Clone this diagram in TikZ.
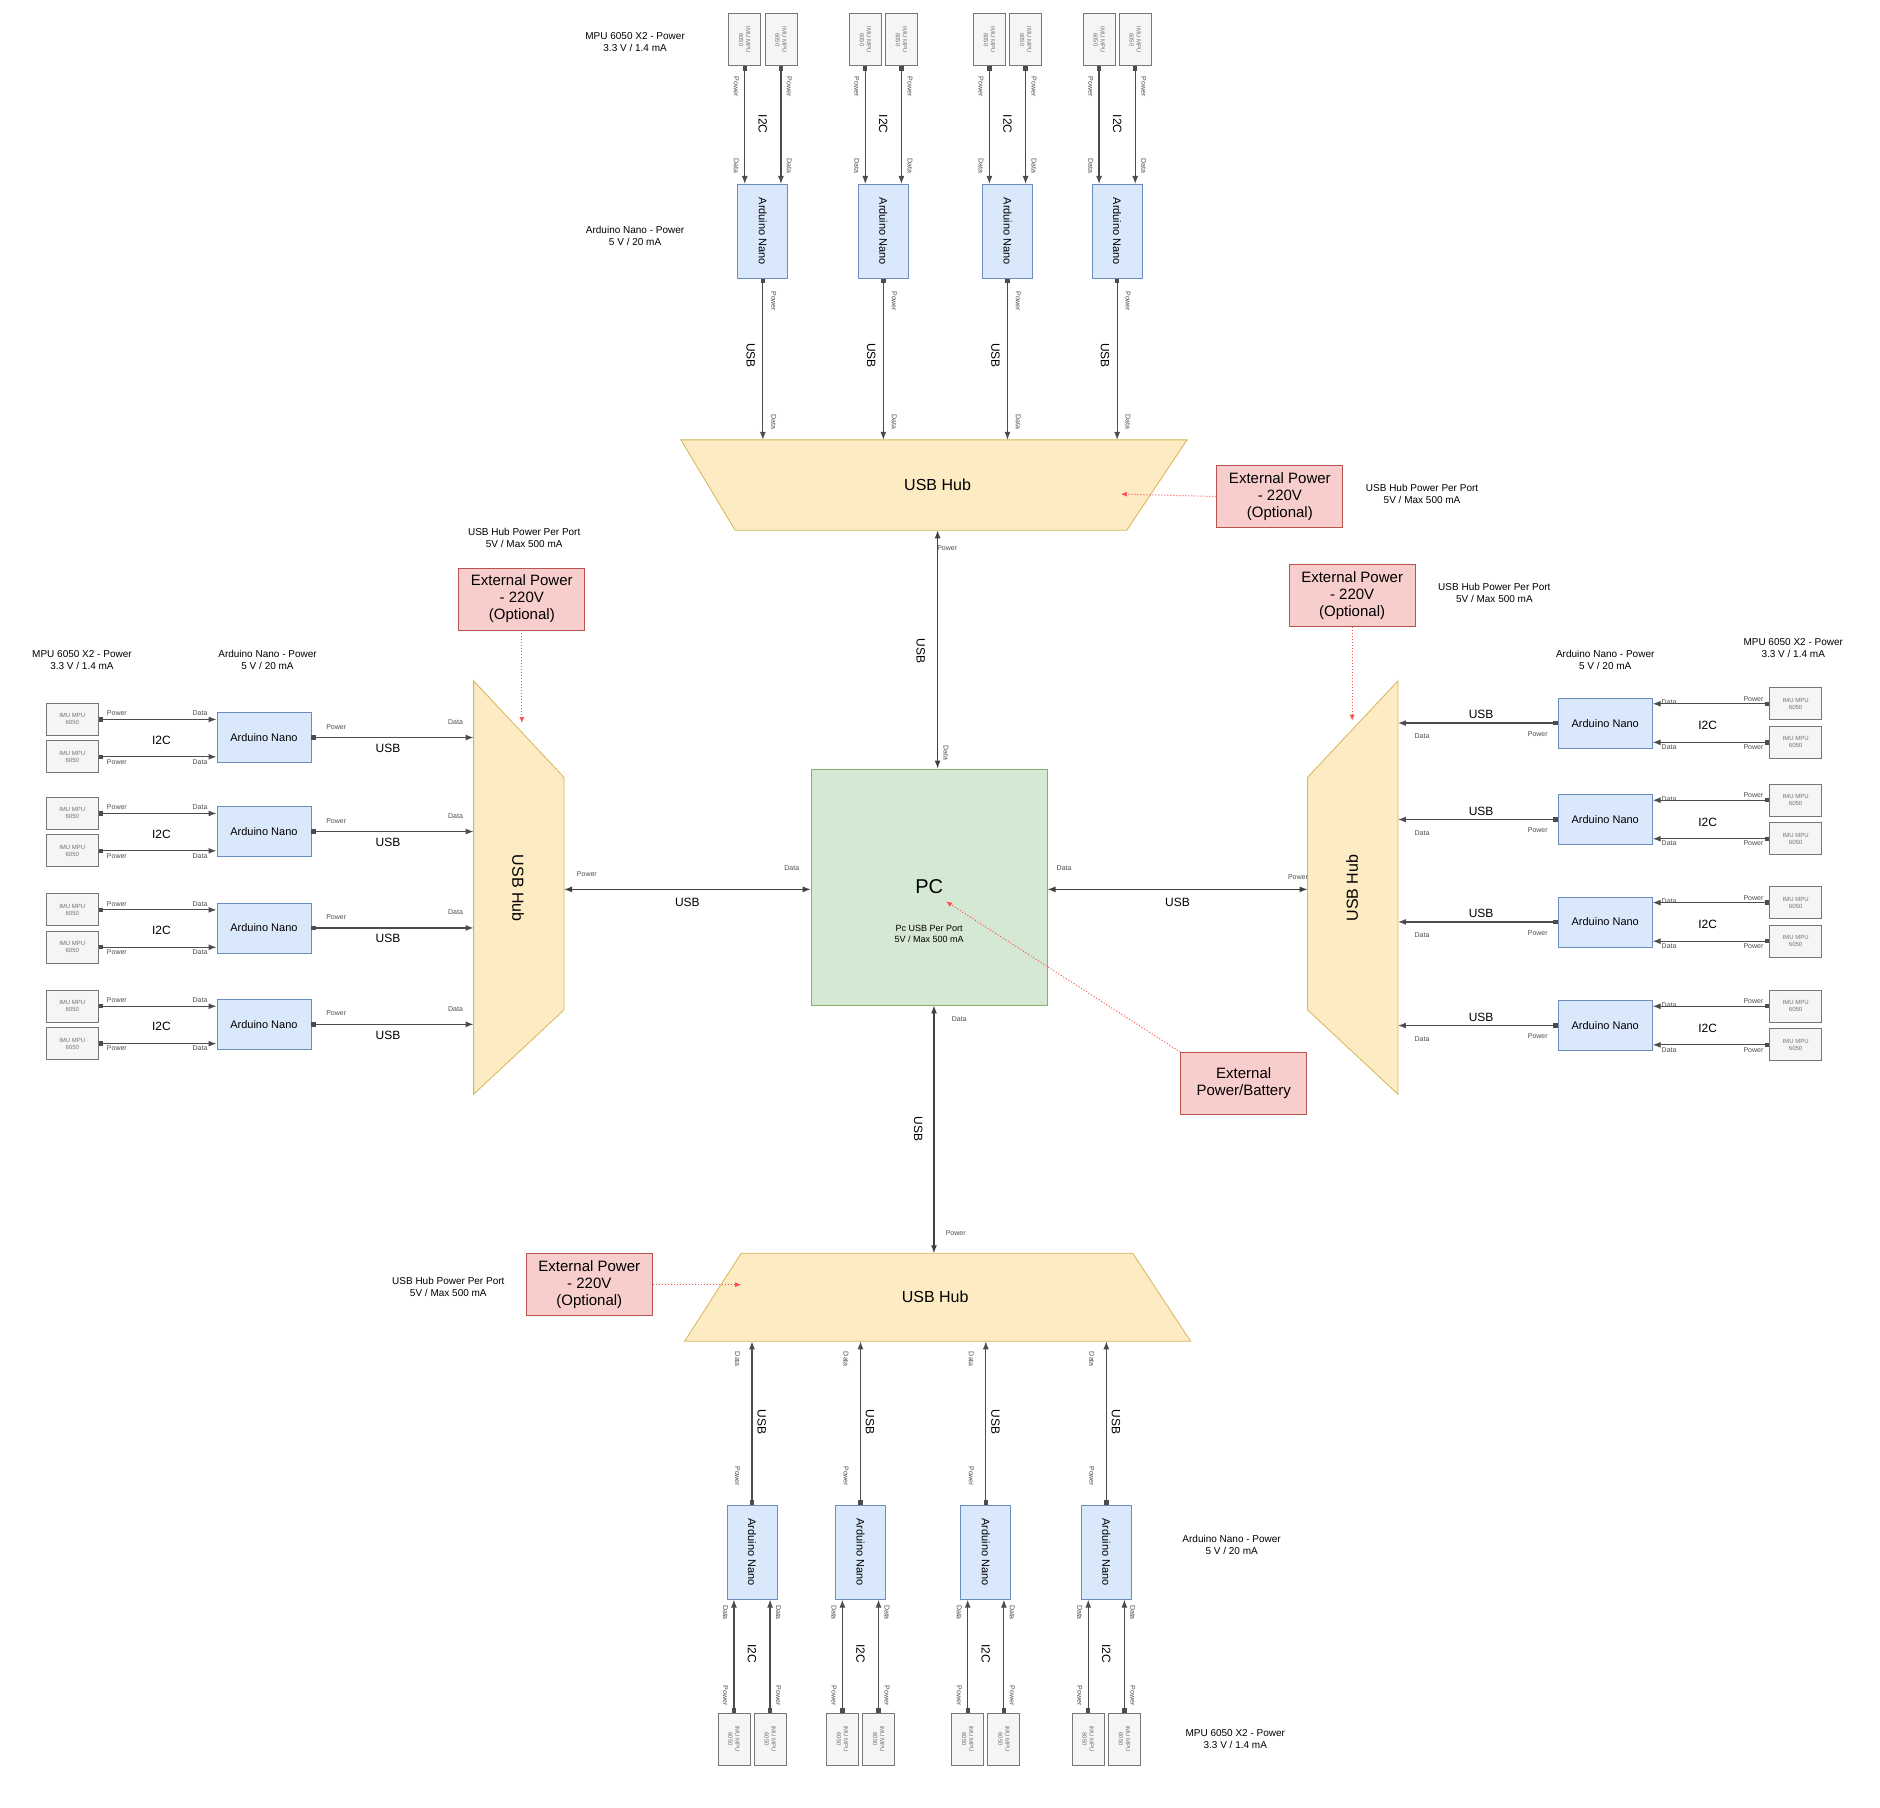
\documentclass[tikz,border=0pt]{standalone}
\usepackage{fontspec}
\setmainfont{Liberation Sans}
\usetikzlibrary{arrows.meta}
\definecolor{arf}{HTML}{DAE8FC}\definecolor{ard}{HTML}{6C8EBF}
\definecolor{hubf}{HTML}{FCEBC3}\definecolor{hubd}{HTML}{D6B656}
\definecolor{pcf}{HTML}{D5E8D4}\definecolor{pcd}{HTML}{82B366}
\definecolor{pkf}{HTML}{F8CECC}\definecolor{pkd}{HTML}{B85450}
\definecolor{mpf}{HTML}{F5F5F5}\definecolor{mpd}{HTML}{777777}
\begin{document}
\begin{tikzpicture}[x=0.6025pt,y=-0.6025pt,
 ardbox/.style={draw=ard,fill=arf,minimum width=47pt,minimum height=25pt,inner sep=0pt,font=\fontsize{5.5}{6}\selectfont},
 mpubox/.style={draw=mpd,fill=mpf,minimum width=26pt,minimum height=16pt,inner sep=0pt,align=center,text=black!55,font=\fontsize{3}{3.5}\selectfont},
 hub/.style={draw=hubd,fill=hubf,line width=0.4pt},
 pink/.style={draw=pkd,fill=pkf,minimum width=63pt,minimum height=31pt,align=center,inner sep=1pt,font=\fontsize{7.5}{8.5}\selectfont},
 con/.style={draw=black!70,line width=0.6pt,{Square[length=2.2pt,width=2.2pt]}-{Latex[length=4pt,width=3pt]}},
 dcon/.style={draw=black!75,line width=0.6pt,{Latex[length=4pt,width=3pt]}-{Latex[length=4pt,width=3pt]}},
 dot/.style={draw=red!70,densely dotted,line width=0.5pt,-{Latex[length=3pt,width=2.5pt]}},
 tl/.style={font=\fontsize{3.5}{4}\selectfont,text=black!70,inner sep=0pt},
 ml/.style={font=\fontsize{6}{7}\selectfont,inner sep=0pt},
 note/.style={font=\fontsize{5}{6}\selectfont,align=center,inner sep=0pt}]
\useasboundingbox (0,0) rectangle (1560,1500);
% hubs
\draw[hub] (565,365)--(985,365)--(935,440)--(610,440)--cycle;
\node[font=\fontsize{8}{9}\selectfont] (hTl) at (778,402) {USB Hub};
\draw[hub] (615,1040)--(940,1040)--(988,1113)--(568,1113)--cycle;
\node[font=\fontsize{8}{9}\selectfont] (hBl) at (776,1076) {USB Hub};
\draw[hub] (393,565)--(468,645)--(468,838)--(393,908)--cycle;
\node[font=\fontsize{8}{9}\selectfont,rotate=-90] (hLl) at (430,737) {USB Hub};
\draw[hub] (1160,565)--(1085,645)--(1085,838)--(1160,908)--cycle;
\node[font=\fontsize{8}{9}\selectfont,rotate=90] (hRl) at (1122,737) {USB Hub};
\coordinate (hTt) at (0,365); \coordinate (hTb) at (778,440);
\coordinate (hBb) at (0,1113); \coordinate (hBt) at (775,1040);
\coordinate (hLl2) at (393,0); \coordinate (hLr) at (468,738);
\coordinate (hRr) at (1160,0); \coordinate (hRl2) at (1085,738);
% PC
\node[draw=pcd,fill=pcf,minimum width=118pt,minimum height=118pt] (pc) at (771,736) {};
\node[font=\fontsize{10}{11}\selectfont] (pct) at (771,736) {PC};
\node[note,font=\fontsize{4.5}{5.5}\selectfont] (pcs) at (771,775) {Pc USB Per Port\\5V / Max 500 mA};
\draw[dcon] (hTb) -- (hTb |- pc.north);
\node[ml,rotate=-90] at (764,540) {USB};
\node[tl] at (786,455) {Power}; \node[tl,rotate=-90] at (785,625) {Data};
\draw[dcon] (hLr) -- (hLr -| pc.west) node[pos=0.5,ml,below=4pt] {USB};
\node[tl] at (487,725) {Power}; \node[tl] at (657,720) {Data};
\draw[dcon] (pc.east |- hRl2) -- (hRl2) node[pos=0.5,ml,below=4pt] {USB};
\node[tl] at (883,720) {Data}; \node[tl] at (1077,728) {Power};
\draw[dcon] (hBt |- pc.south) -- (hBt);
\node[ml,rotate=-90] at (762,937) {USB};
\node[tl] at (796,846) {Data}; \node[tl] at (793,1023) {Power};
% top group
\foreach \i/\a in {1/633,2/733,3/836,4/927}{
 \node[ardbox,rotate=-90] (ta\i) at (\a,192) {Arduino Nano};
 \node[mpubox,rotate=-90] (tm\i a) at (\a-15,33) {IMU MPU\\6050};
 \node[mpubox,rotate=-90] (tm\i b) at (\a+15,33) {IMU MPU\\6050};
 \draw[con] (tm\i a.east) -- (tm\i a.east |- ta\i.west);
 \draw[con] (tm\i b.east) -- (tm\i b.east |- ta\i.west);
 \draw[con] (ta\i.east) -- (ta\i.east |- hTt);
 \node[ml,rotate=-90] at (\a,103) {I2C};
 \node[tl,rotate=-90] at (\a-22,72) {Power}; \node[tl,rotate=-90] at (\a+22,72) {Power};
 \node[tl,rotate=-90] at (\a-22,138) {Data}; \node[tl,rotate=-90] at (\a+22,138) {Data};
 \node[tl,rotate=-90] at (\a+9,250) {Power}; \node[tl,rotate=-90] at (\a+9,350) {Data};
 \node[ml,rotate=-90] at (\a-10,295) {USB};
}
% bottom group
\foreach \i/\a in {1/624,2/714,3/818,4/918}{
 \node[ardbox,rotate=-90] (ba\i) at (\a,1288) {Arduino Nano};
 \node[mpubox,rotate=-90] (bm\i a) at (\a-15,1443) {IMU MPU\\6050};
 \node[mpubox,rotate=-90] (bm\i b) at (\a+15,1443) {IMU MPU\\6050};
 \draw[con] (bm\i a.west) -- (bm\i a.west |- ba\i.east);
 \draw[con] (bm\i b.west) -- (bm\i b.west |- ba\i.east);
 \draw[con] (ba\i.west) -- (ba\i.west |- hBb);
 \node[ml,rotate=-90] at (\a,1372) {I2C};
 \node[tl,rotate=-90] at (\a-22,1407) {Power}; \node[tl,rotate=-90] at (\a+22,1407) {Power};
 \node[tl,rotate=-90] at (\a-22,1338) {Data}; \node[tl,rotate=-90] at (\a+22,1338) {Data};
 \node[tl,rotate=-90] at (\a-12,1225) {Power}; \node[tl,rotate=-90] at (\a-12,1128) {Data};
 \node[ml,rotate=-90] at (\a+8,1180) {USB};
}
% left group
\foreach \i/\b in {1/612,2/690,3/770,4/850}{
 \node[ardbox] (la\i) at (219,\b) {Arduino Nano};
 \node[mpubox] (lm\i a) at (60,\b-15) {IMU MPU\\6050};
 \node[mpubox] (lm\i b) at (60,\b+16) {IMU MPU\\6050};
 \draw[con] (lm\i a.east) -- (lm\i a.east -| la\i.west);
 \draw[con] (lm\i b.east) -- (lm\i b.east -| la\i.west);
 \draw[con] (la\i.east) -- (la\i.east -| hLl2);
 \node[ml] at (134,\b+2) {I2C};
 \node[tl] at (97,\b-20) {Power}; \node[tl] at (97,\b+20) {Power};
 \node[tl] at (166,\b-20) {Data}; \node[tl] at (166,\b+20) {Data};
 \node[tl] at (279,\b-9) {Power}; \node[tl] at (378,\b-13) {Data};
 \node[ml] at (322,\b+9) {USB};
}
% right group
\foreach \i/\b in {1/600,2/680,3/765,4/851}{
 \node[ardbox] (ra\i) at (1332,\b) {Arduino Nano};
 \node[mpubox] (rm\i a) at (1490,\b-16) {IMU MPU\\6050};
 \node[mpubox] (rm\i b) at (1490,\b+16) {IMU MPU\\6050};
 \draw[con] (rm\i a.west) -- (rm\i a.west -| ra\i.east);
 \draw[con] (rm\i b.west) -- (rm\i b.west -| ra\i.east);
 \draw[con] (ra\i.west) -- (ra\i.west -| hRr);
 \node[ml] at (1417,\b+2) {I2C};
 \node[tl] at (1455,\b-20) {Power}; \node[tl] at (1455,\b+20) {Power};
 \node[tl] at (1385,\b-17) {Data}; \node[tl] at (1385,\b+20) {Data};
 \node[tl] at (1276,\b+9) {Power}; \node[tl] at (1180,\b+11) {Data};
 \node[ml] at (1229,\b-7) {USB};
}
% external power
\node[pink] (epT) at (1062,412) {External Power\\- 220V\\(Optional)};
\draw[dot] (epT.west) -- (930,410);
\node[pink] (epL) at (433,497) {External Power\\- 220V\\(Optional)};
\draw[dot] (epL.south) -- (433,600);
\node[pink] (epR) at (1122,494) {External Power\\- 220V\\(Optional)};
\draw[dot] (epR.south) -- (1122,598);
\node[pink] (epB) at (489,1066) {External Power\\- 220V\\(Optional)};
\draw[dot] (epB.east) -- (615,1066);
\node[pink] (epx) at (1032,899) {External\\Power/Battery};
\draw[dot] (epx.north west) -- (785,748);
% notes
\node[note] at (527,35) {MPU 6050 X2 - Power\\3.3 V / 1.4 mA};
\node[note] at (527,196) {Arduino Nano - Power\\5 V / 20 mA};
\node[note] at (1180,410) {USB Hub Power Per Port\\5V / Max 500 mA};
\node[note] at (435,446) {USB Hub Power Per Port\\5V / Max 500 mA};
\node[note] at (1240,492) {USB Hub Power Per Port\\5V / Max 500 mA};
\node[note] at (372,1068) {USB Hub Power Per Port\\5V / Max 500 mA};
\node[note] at (68,548) {MPU 6050 X2 - Power\\3.3 V / 1.4 mA};
\node[note] at (222,548) {Arduino Nano - Power\\5 V / 20 mA};
\node[note] at (1332,548) {Arduino Nano - Power\\5 V / 20 mA};
\node[note] at (1488,538) {MPU 6050 X2 - Power\\3.3 V / 1.4 mA};
\node[note] at (1022,1282) {Arduino Nano - Power\\5 V / 20 mA};
\node[note] at (1025,1443) {MPU 6050 X2 - Power\\3.3 V / 1.4 mA};
\end{tikzpicture}
\end{document}
